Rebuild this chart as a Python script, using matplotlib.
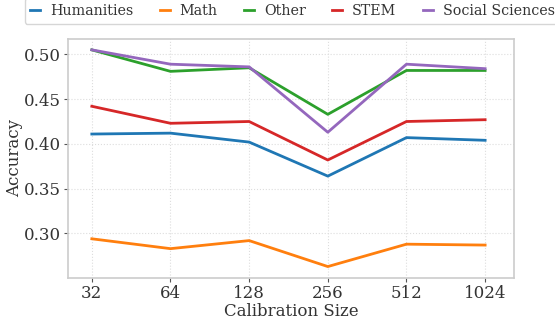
import numpy as np
import matplotlib
matplotlib.use("Agg")
import matplotlib.pyplot as plt

calib_sizes = [32, 64, 128, 256, 512, 1024]
humanities = [0.411, 0.412, 0.402, 0.364, 0.407, 0.404]
math_acc = [0.294, 0.283, 0.292, 0.263, 0.288, 0.287]
other = [0.505, 0.481, 0.485, 0.433, 0.482, 0.482]
stem = [0.442, 0.423, 0.425, 0.382, 0.425, 0.427]
social = [0.505, 0.489, 0.486, 0.413, 0.489, 0.484]

series = [
    ("Humanities", humanities, "#1f77b4"),
    ("Math", math_acc, "#ff7f0e"),
    ("Other", other, "#2ca02c"),
    ("STEM", stem, "#d62728"),
    ("Social Sciences", social, "#9467bd"),
]

plt.rcParams["font.family"] = "DejaVu Serif"

fig, ax = plt.subplots(figsize=(5.55, 3.26), dpi=100)
for name, vals, col in series:
    ax.plot(calib_sizes, vals, color=col, lw=2, label=name)

ax.set_xscale("log", base=2)
ax.set_xticks(calib_sizes)
ax.set_xticklabels([str(c) for c in calib_sizes])
ax.set_yticks([0.30, 0.35, 0.40, 0.45, 0.50])
ax.set_ylim(0.2505, 0.517)
ax.set_xlim(26, 1320)
ax.set_xlabel("Calibration Size", fontsize=12, color="#333333", labelpad=1)
ax.set_ylabel("Accuracy", fontsize=12, color="#333333", labelpad=1)
ax.tick_params(labelsize=12, colors="#333333", pad=2, length=3)
ax.tick_params(which="both", color="#555555")
ax.grid(True, ls=":", color="#dddddd", lw=0.8)
for s in ax.spines.values():
    s.set_color("#cccccc")
    s.set_linewidth(1.2)

leg = ax.legend(loc="lower center", bbox_to_anchor=(0.503, 1.065), ncol=5,
                fontsize=10.25, handlelength=0.7, columnspacing=1.85,
                handletextpad=0.7, frameon=True, borderaxespad=0,
                borderpad=0.4)
leg.get_frame().set_edgecolor("#cccccc")
for t in leg.get_texts():
    t.set_color("#333333")

fig.subplots_adjust(left=0.123, right=0.926, top=0.88, bottom=0.148)
fig.savefig("out.png", dpi=100)
